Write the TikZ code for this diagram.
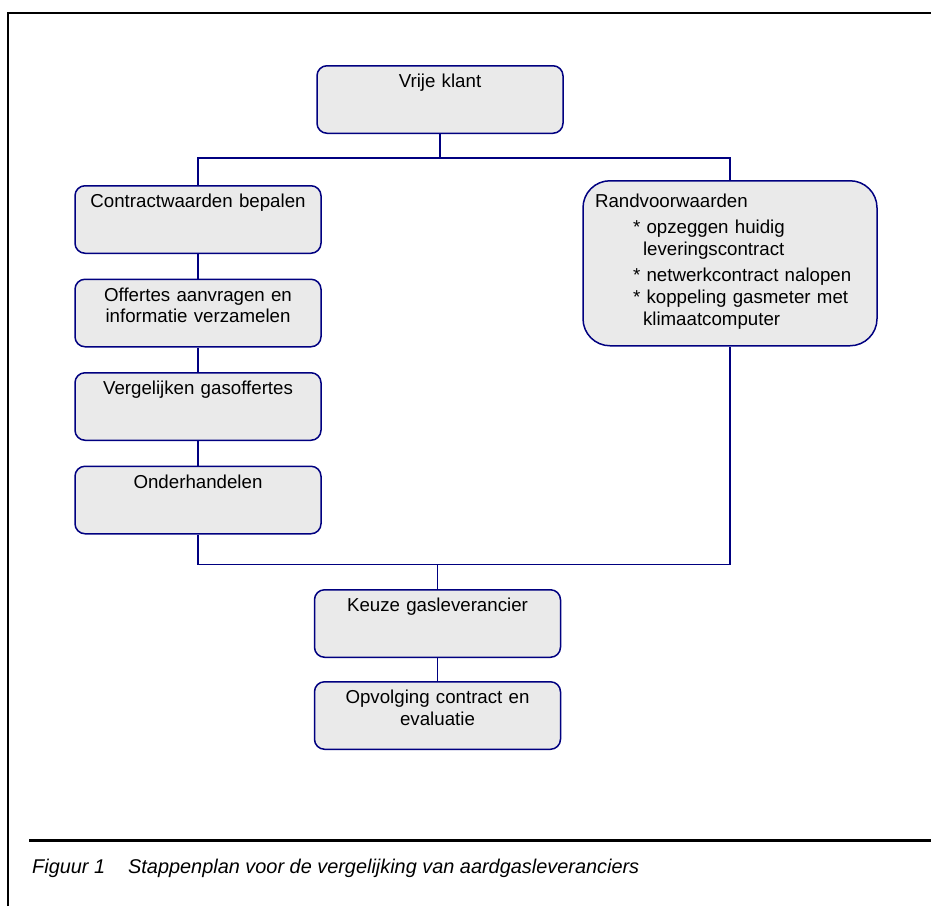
\documentclass[tikz,border=0pt]{standalone}
\usepackage{fontspec}
\setmainfont{Liberation Sans}
\usetikzlibrary{positioning}
\definecolor{lijnblauw}{RGB}{0,0,128}
\definecolor{vakgrijs}{RGB}{234,234,234}
\begin{document}
\begin{tikzpicture}[x=1pt,y=1pt,
  node distance=24.5pt,
  stap/.style={draw=lijnblauw, line width=1.5pt, fill=vakgrijs, rounded corners=10pt,
    text width=230pt, align=center, inner xsep=8pt, inner ysep=8pt,
    text height=14pt, text depth=37.5pt, font=\fontsize{18.7}{21.5}\selectfont},
  voorwaarden/.style={stap, rounded corners=27pt, text width=270pt, align=left,
    inner xsep=12pt, inner ysep=12pt, text height=15pt, text depth=126pt,
    font=\fontsize{18.7}{22}\selectfont},
  lijn/.style={draw=lijnblauw, line width=1.5pt}]
    \useasboundingbox (0,0) rectangle (931,-906);
    \draw[line width=2pt] (8,-906) -- (8,-12.7) -- (931,-12.7);
    \node[stap, anchor=north] (klant) at (440,-65) {Vrije klant};
    \node[stap, anchor=north] (contract) at (198,-185) {Contractwaarden bepalen};
    \node[stap, below=of contract] (offertes) {Offertes aanvragen en\\ informatie verzamelen};
    \node[stap, below=of offertes] (vergelijken) {Vergelijken gasoffertes};
    \node[stap, below=of vergelijken] (onder) {Onderhandelen};
    \node[voorwaarden, anchor=north] (rand) at (730,-180) {Randvoorwaarden\\[4pt]
        \hspace*{38pt}* opzeggen huidig\\
        \hspace*{48pt}leveringscontract\\[4pt]
        \hspace*{38pt}* netwerkcontract nalopen\\
        \hspace*{38pt}* koppeling gasmeter met\\
        \hspace*{48pt}klimaatcomputer};
    \node[stap, anchor=north] (keuze) at (437.5,-589) {Keuze gasleverancier};
    \node[stap, below=23pt of keuze] (opvolging) {Opvolging contract en\\ evaluatie};
    \draw[lijn] (klant.south) -- ++(0,-24) coordinate (splits) -| (contract.north);
    \draw[lijn] (splits) -| (rand.north);
    \draw[lijn] (contract.south) -- (offertes.north);
    \draw[lijn] (offertes.south) -- (vergelijken.north);
    \draw[lijn] (vergelijken.south) -- (onder.north);
    \draw[lijn] (onder.south) -- ++(0,-30) coordinate (samen) -| (rand.south);
    \draw[lijn] (samen -| keuze.north) -- (keuze.north);
    \draw[lijn] (keuze.south) -- (opvolging.north);
    \draw[line width=2.5pt] (29,-840.7) -- (931,-840.7);
    \node[anchor=base west, inner sep=0pt, font=\fontsize{19.9}{22}\selectfont\itshape]
        (onderschrift) at (32,-873) {\makebox[96pt][l]{Figuur 1}Stappenplan voor de vergelijking van aardgasleveranciers};
\end{tikzpicture}
\end{document}
